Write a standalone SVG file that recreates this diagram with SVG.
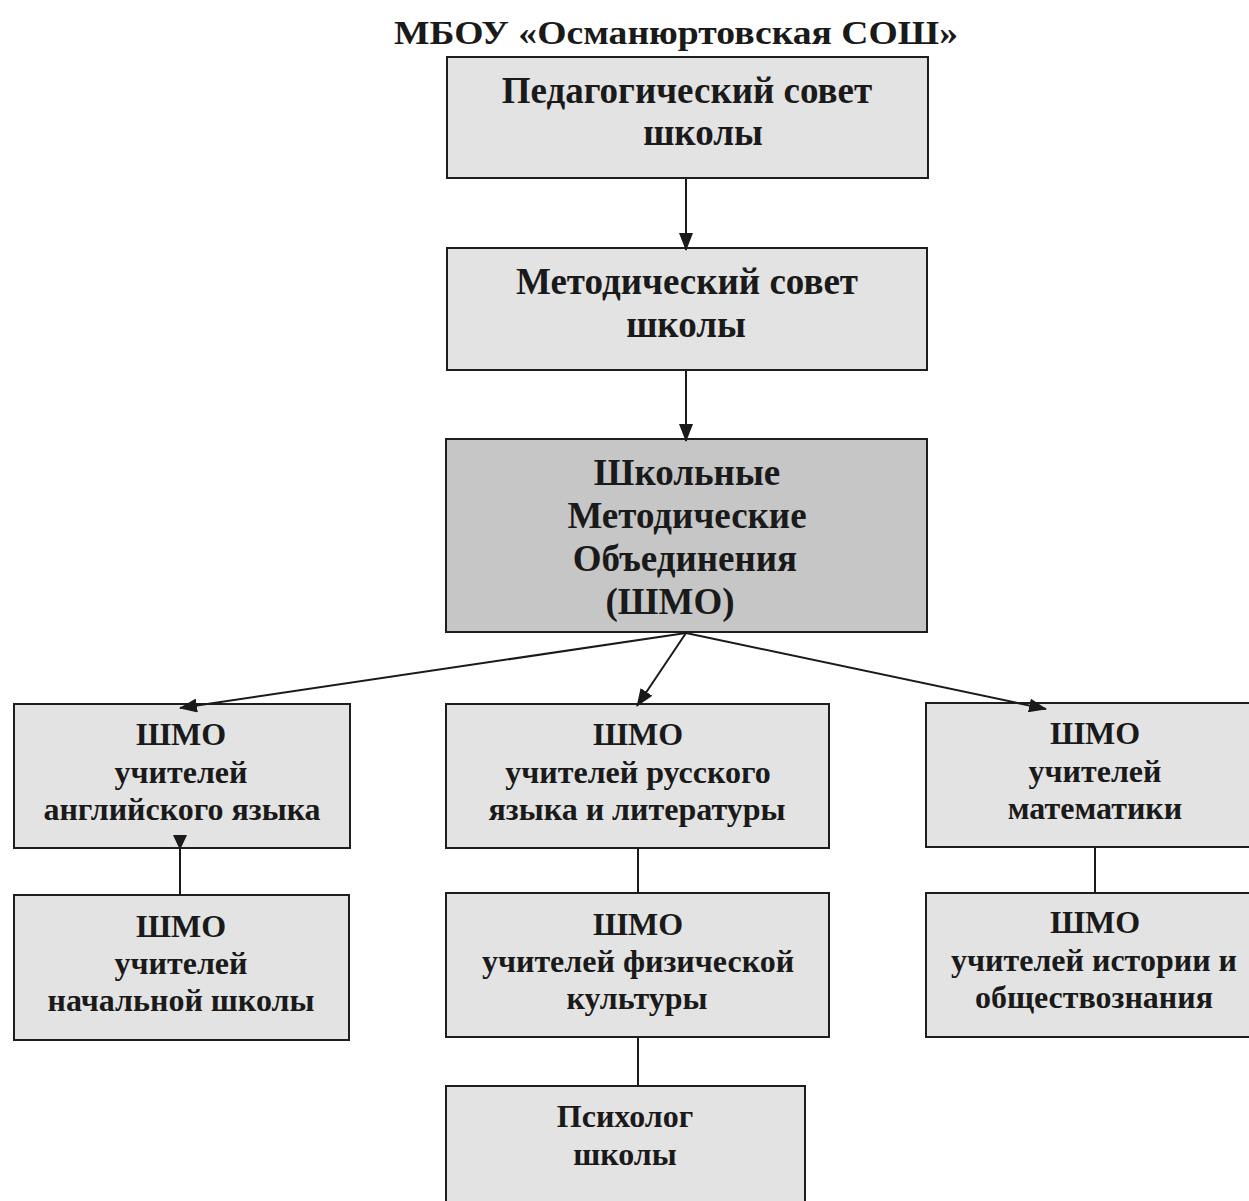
<svg xmlns="http://www.w3.org/2000/svg" width="1249" height="1201" viewBox="0 0 1249 1201">
<style>
.box{fill:#e3e3e3;stroke:#1e1e1e;stroke-width:2}
.dark{fill:#c6c6c6;stroke:#1e1e1e;stroke-width:2}
text{font-family:"Liberation Serif","Times New Roman",serif;font-weight:bold;fill:#1a1a1a;text-anchor:middle}
.big{font-size:37px}
.mid{font-size:32px}
.title{font-size:33px}
.conn{stroke:#1a1a1a;stroke-width:2;fill:none}
</style>
<defs>
<marker id="ah" viewBox="0 0 18 14" refX="17" refY="7" markerWidth="18" markerHeight="14" markerUnits="userSpaceOnUse" orient="auto">
<path d="M0,0 L18,7 L0,14 z" fill="#1a1a1a"/>
</marker>
</defs>
<rect width="1249" height="1201" fill="#ffffff"/>
<text class="title" x="676" y="44" textLength="564" lengthAdjust="spacingAndGlyphs">МБОУ «Османюртовская СОШ»</text>
<g id="n-pedsovet">
<rect class="box" x="447" y="57" width="481" height="121"/>
<text class="big" x="687" y="103">Педагогический совет</text>
<text class="big" x="703" y="145">школы</text>
</g>
<g id="n-metsovet">
<rect class="box" x="447" y="248" width="480" height="122"/>
<text class="big" x="687" y="294">Методический совет</text>
<text class="big" x="686" y="337">школы</text>
</g>
<g id="n-shmo">
<rect class="dark" x="446" y="439" width="481" height="193"/>
<text class="big" x="687" y="485">Школьные</text>
<text class="big" x="687" y="528">Методические</text>
<text class="big" x="685" y="571">Объединения</text>
<text class="big" x="670" y="614">(ШМО)</text>
</g>
<g id="n-eng">
<rect class="box" x="14" y="704" width="336" height="144"/>
<text class="mid" x="181" y="745">ШМО</text>
<text class="mid" x="181" y="783">учителей</text>
<text class="mid" x="182" y="820">английского языка</text>
</g>
<g id="n-rus">
<rect class="box" x="446" y="704" width="383" height="144"/>
<text class="mid" x="638" y="745">ШМО</text>
<text class="mid" x="638" y="783">учителей русского</text>
<text class="mid" x="637" y="820">языка и литературы</text>
</g>
<g id="n-math">
<rect class="box" x="926" y="703" width="330" height="144"/>
<text class="mid" x="1095" y="744">ШМО</text>
<text class="mid" x="1095" y="782">учителей</text>
<text class="mid" x="1095" y="819">математики</text>
</g>
<g id="n-prim">
<rect class="box" x="14" y="895" width="335" height="145"/>
<text class="mid" x="181" y="937">ШМО</text>
<text class="mid" x="181" y="974">учителей</text>
<text class="mid" x="181" y="1011">начальной школы</text>
</g>
<g id="n-pe">
<rect class="box" x="446" y="893" width="383" height="144"/>
<text class="mid" x="638" y="935">ШМО</text>
<text class="mid" x="638" y="972">учителей физической</text>
<text class="mid" x="637" y="1009">культуры</text>
</g>
<g id="n-hist">
<rect class="box" x="926" y="893" width="330" height="144"/>
<text class="mid" x="1095" y="933">ШМО</text>
<text class="mid" x="1094" y="971">учителей истории и</text>
<text class="mid" x="1094" y="1008">обществознания</text>
</g>
<g id="n-psych">
<rect class="box" x="446" y="1086" width="359" height="130"/>
<text class="mid" x="625" y="1127">Психолог</text>
<text class="mid" x="625" y="1165">школы</text>
</g>
<g id="connectors">
<line class="conn" x1="686" y1="179" x2="686" y2="250" marker-end="url(#ah)"/>
<line class="conn" x1="686" y1="371" x2="686" y2="441" marker-end="url(#ah)"/>
<line class="conn" x1="686" y1="633" x2="180" y2="708" marker-end="url(#ah)"/>
<line class="conn" x1="686" y1="633" x2="637" y2="706" marker-end="url(#ah)"/>
<line class="conn" x1="686" y1="633" x2="1046" y2="709" marker-end="url(#ah)"/>
<line class="conn" x1="180" y1="848" x2="180" y2="895"/>
<path d="M173,835 L187,835 L180,850 z" fill="#1a1a1a"/>
<line class="conn" x1="638" y1="849" x2="638" y2="893"/>
<line class="conn" x1="638" y1="1038" x2="638" y2="1086"/>
<line class="conn" x1="1095" y1="848" x2="1095" y2="893"/>
</g>
</svg>
